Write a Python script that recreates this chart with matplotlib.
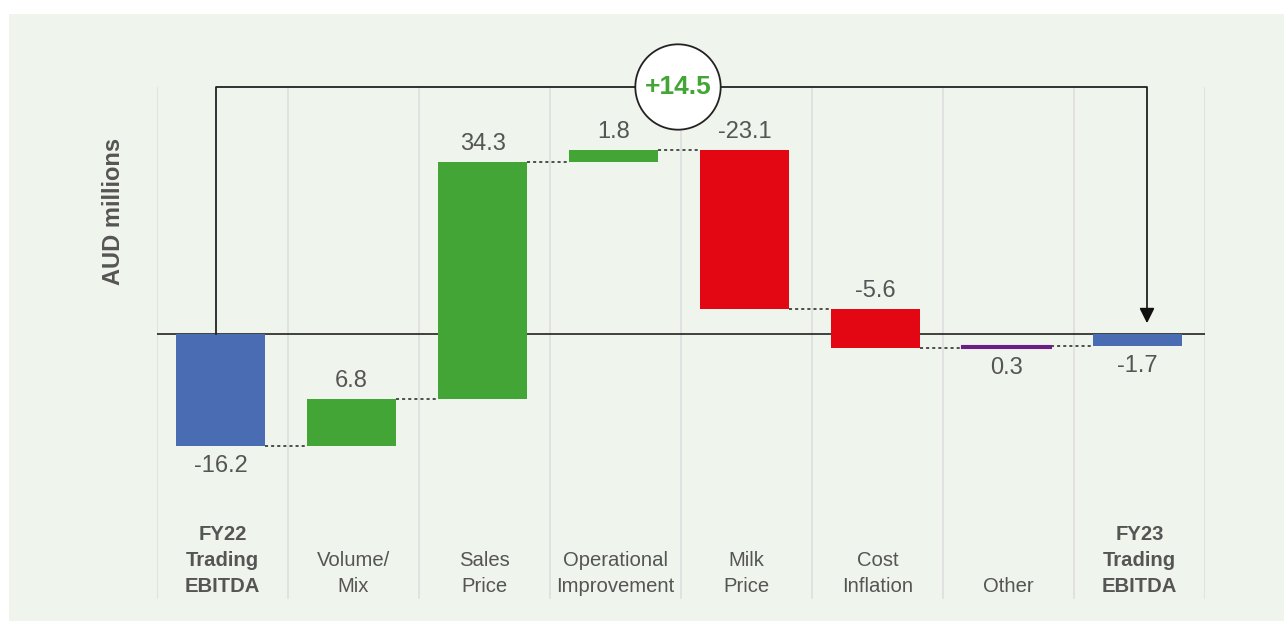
import matplotlib

matplotlib.use("Agg")
import matplotlib.pyplot as plt
from matplotlib.patches import Circle, Rectangle

# data
categories = [
    "FY22\nTrading\nEBITDA",
    "Volume/\nMix",
    "Sales\nPrice",
    "Operational\nImprovement",
    "Milk\nPrice",
    "Cost\nInflation",
    "Other",
    "FY23\nTrading\nEBITDA",
]
values = [-16.2, 6.8, 34.3, 1.8, -23.1, -5.6, 0.3, -1.7]
kinds = ["total", "step", "step", "step", "step", "step", "step", "total"]
value_labels = ["-16.2", "6.8", "34.3", "1.8", "-23.1", "-5.6", "0.3", "-1.7"]
label_pos = ["below", "above", "above", "above", "above", "above", "below", "below"]
change_label = "+14.5"

BLUE = "#4a6cb3"
GREEN = "#43a535"
RED = "#e30613"
PURPLE = "#6b1f86"
PANEL = "#eff4ec"
GRID = "#dedede"
TEXT = "#555555"

plt.rcParams["font.family"] = ["Liberation Sans", "DejaVu Sans"]

W, H = 1284, 621
fig = plt.figure(figsize=(W / 100, H / 100), dpi=100)
fig.patch.set_facecolor("white")
fig.patches.append(Rectangle((9 / W, 0), 1 - 9 / W, 1 - 14 / H, transform=fig.transFigure,
                             facecolor=PANEL, edgecolor="none", zorder=-10))

# axes box in pixels: left 157, right 1205, top 60, bottom 600
px = 6.9  # pixels per unit
zero_y = 334
ax_top, ax_bot = 60, 600
ax_left, ax_right = 157, 1205
ax = fig.add_axes([ax_left / W, (H - ax_bot) / H, (ax_right - ax_left) / W, (ax_bot - ax_top) / H])
ax.set_facecolor("none")
ax.set_xlim(-0.5, len(categories) - 0.5)
ax.set_ylim(-(ax_bot - zero_y) / px, (zero_y - ax_top) / px)
ax.axis("off")


def py(pix):
    return (zero_y - pix) / px


def pxx(pix):
    return (pix - ax_left) / (ax_right - ax_left) * len(categories) - 0.5


# category separators
for i in range(len(categories) + 1):
    ax.plot([i - 0.5, i - 0.5], [py(598), py(88)], color=GRID, lw=1.2, zorder=1)

ax.axhline(0, color="#222222", lw=1.2, zorder=2)

bw = 0.68
shift = -0.015
running = 0.0
ends = []
for i, (v, k) in enumerate(zip(values, kinds)):
    if k == "total":
        bottom, top = min(0, v), max(0, v)
        color = BLUE
        running = v
    else:
        start = running
        running = start + v
        bottom, top = min(start, running), max(start, running)
        color = GREEN if v > 0 else RED
        if categories[i] == "Other":
            color = PURPLE
    thin = (top - bottom) < 0.5
    ax.bar(i + shift, top - bottom, bottom=bottom, width=bw, color=color, zorder=3,
           edgecolor=color if thin else "none", linewidth=1.5 if thin else 0)
    ends.append((top, bottom, running))
    if label_pos[i] == "above":
        ax.text(i + shift, top + 2.6, value_labels[i], ha="center", va="center", fontsize=17, color=TEXT)
    else:
        ax.text(i + shift, bottom - 3.0, value_labels[i], ha="center", va="center", fontsize=17, color=TEXT)

# dotted connectors
for i in range(len(values) - 1):
    level = ends[i][2]
    if i == 5:
        level = ends[i][1]
    ax.plot([i + shift + bw / 2, i + 1 + shift - bw / 2], [level, level], color="#222222", lw=1.1,
            ls=(0, (2, 2)), zorder=2)

# category labels
for i, c in enumerate(categories):
    bold = c.startswith("FY")
    ax.text(i, py(596), c, ha="center", va="bottom", fontsize=14.6, color=TEXT,
            fontweight="bold" if bold else "normal", linespacing=1.45)

fig.text(113 / W, 1 - 211 / H, "AUD millions", rotation=90, ha="center", va="center",
         fontsize=17, fontweight="bold", color=TEXT)

# bracket showing overall change
top_y = py(87)
x0, x1 = pxx(216), pxx(1147)
ax.plot([x0, x0, x1, x1], [0, top_y, top_y, py(318)], color="#222222", lw=1.3, zorder=4)
ax.annotate("", xy=(x1, py(326)), xytext=(x1, py(312)),
            arrowprops=dict(arrowstyle="-|>,head_width=0.45,head_length=0.9", color="#111111", lw=1.3),
            zorder=4)
circle_ax = fig.add_axes([(678 - 44) / W, 1 - (87 + 44) / H, 88 / W, 88 / H])
circle_ax.set_xlim(-1, 1)
circle_ax.set_ylim(-1, 1)
circle_ax.axis("off")
circle_ax.add_patch(Circle((0, 0), 0.97, facecolor="white", edgecolor="#222222", lw=1.3))
circle_ax.text(0, 0, change_label, ha="center", va="center", fontsize=19, fontweight="bold",
               color=GREEN)

fig.savefig("out.png", dpi=100)
